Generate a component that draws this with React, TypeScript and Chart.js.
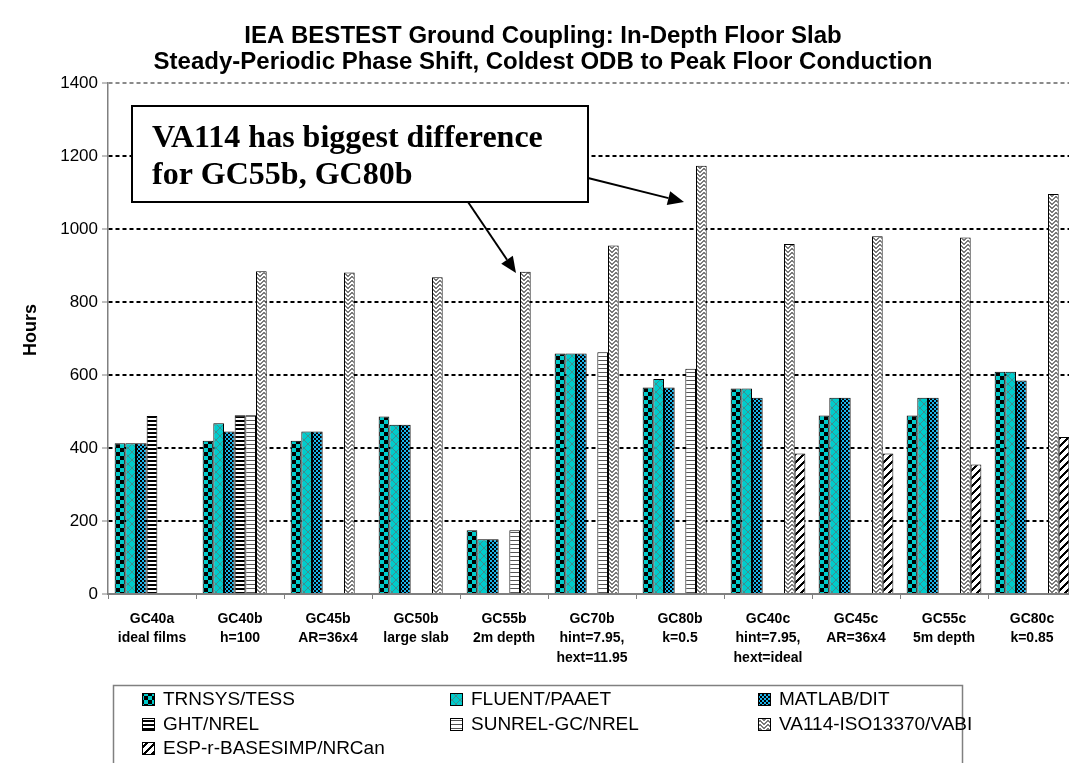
import React, { useEffect, useRef } from "react";
import { Chart, registerables } from "chart.js";
Chart.register(...registerables);

const categoryLabels: string[][] = [
  ["GC40a", "ideal films"],
  ["GC40b", "h=100"],
  ["GC45b", "AR=36x4"],
  ["GC50b", "large slab"],
  ["GC55b", "2m depth"],
  ["GC70b", "hint=7.95,", "hext=11.95"],
  ["GC80b", "k=0.5"],
  ["GC40c", "hint=7.95,", "hext=ideal"],
  ["GC45c", "AR=36x4"],
  ["GC55c", "5m depth"],
  ["GC80c", "k=0.85"],
];

const seriesNames = [
  "TRNSYS/TESS",
  "FLUENT/PAAET",
  "MATLAB/DIT",
  "GHT/NREL",
  "SUNREL-GC/NREL",
  "VA114-ISO13370/VABI",
  "ESP-r-BASESIMP/NRCan",
];

const trnsysTess = [413, 420, 420, 486, 175, 659, 566, 563, 489, 489, 609];
const fluentPaaet = [413, 468, 445, 464, 150, 659, 589, 563, 538, 538, 609];
const matlabDit = [413, 445, 445, 464, 150, 659, 566, 538, 538, 538, 585];
const ghtNrel = [488, 490, null, null, null, null, null, null, null, null, null];
const sunrelGcNrel = [null, 490, null, null, 175, 662, 617, null, null, null, null];
const va114Vabi = [null, 884, 881, 868, 883, 955, 1173, 959, 980, 977, 1096];
const espNrcan = [null, null, null, null, null, null, null, 385, 385, 355, 430];

const yTicks = [0, 200, 400, 600, 800, 1000, 1200, 1400];
const titleLines = [
  "IEA BESTEST Ground Coupling: In-Depth Floor Slab",
  "Steady-Periodic Phase Shift, Coldest ODB to Peak Floor Conduction",
];
const yAxisTitle = "Hours";
const noteLines = ["VA114 has biggest difference", "for GC55b, GC80b"];

const SANS = '"Liberation Sans", Arial, sans-serif';
const SERIF = '"Liberation Serif", "Times New Roman", serif';
const CYAN = "#00CCCC";

function tile(w: number, h: number, draw: (c: CanvasRenderingContext2D) => void) {
  const cv = document.createElement("canvas");
  cv.width = w;
  cv.height = h;
  const c = cv.getContext("2d")!;
  draw(c);
  return cv;
}

function makePatterns(ctx: CanvasRenderingContext2D): CanvasPattern[] {
  const tiles = [
    tile(8, 8, (c) => {
      c.fillStyle = CYAN;
      c.fillRect(0, 0, 8, 8);
      c.fillStyle = "#000";
      c.fillRect(0, 0, 4, 4);
      c.fillRect(4, 4, 4, 4);
    }),
    tile(8, 8, (c) => {
      c.fillStyle = CYAN;
      c.fillRect(0, 0, 8, 8);
      c.fillStyle = "#3f8f8f";
      for (let i = 0; i < 8; i++) {
        c.fillRect(i, i, 1, 1);
        c.fillRect(7 - i, i, 1, 1);
      }
    }),
    tile(4, 4, (c) => {
      c.fillStyle = "#1ab4ea";
      c.fillRect(0, 0, 4, 4);
      c.fillStyle = "#000";
      c.fillRect(0, 0, 2, 2);
      c.fillRect(2, 2, 2, 2);
    }),
    tile(4, 4, (c) => {
      c.fillStyle = "#fff";
      c.fillRect(0, 0, 4, 4);
      c.fillStyle = "#000";
      c.fillRect(0, 0, 4, 2);
    }),
    tile(4, 4, (c) => {
      c.fillStyle = "#fff";
      c.fillRect(0, 0, 4, 4);
      c.fillStyle = "#555";
      c.fillRect(0, 0, 4, 1);
    }),
    tile(8, 4, (c) => {
      c.fillStyle = "#fff";
      c.fillRect(0, 0, 8, 4);
      c.fillStyle = "#7a7a7a";
      for (let x = 0; x < 8; x++) {
        const y = x < 4 ? x : 7 - x;
        c.fillRect(x, y, 1, 1);
        c.fillRect(x, (y + 1) % 4, 1, 1);
      }
    }),
    tile(8, 8, (c) => {
      c.fillStyle = "#fff";
      c.fillRect(0, 0, 8, 8);
      c.fillStyle = "#000";
      for (let x = 0; x < 8; x++)
        for (let y = 0; y < 8; y++) if ((x + y) % 8 < 3) c.fillRect(x, y, 1, 1);
    }),
  ];
  return tiles.map((t) => ctx.createPattern(t, "repeat")!);
}

function drawArrow(ctx: CanvasRenderingContext2D, x1: number, y1: number, x2: number, y2: number) {
  const ang = Math.atan2(y2 - y1, x2 - x1);
  const len = 16;
  const half = 7;
  const bx = x2 - len * Math.cos(ang);
  const by = y2 - len * Math.sin(ang);
  ctx.beginPath();
  ctx.moveTo(x1, y1);
  ctx.lineTo(bx, by);
  ctx.lineWidth = 2;
  ctx.strokeStyle = "#000";
  ctx.stroke();
  ctx.beginPath();
  ctx.moveTo(x2, y2);
  ctx.lineTo(bx + half * Math.sin(ang), by - half * Math.cos(ang));
  ctx.lineTo(bx - half * Math.sin(ang), by + half * Math.cos(ang));
  ctx.closePath();
  ctx.fillStyle = "#000";
  ctx.fill();
}

export default function App() {
  const ref = useRef<HTMLCanvasElement | null>(null);

  useEffect(() => {
    const canvas = ref.current!;
    const ctx0 = canvas.getContext("2d")!;
    const patterns = makePatterns(ctx0);
    const series = [trnsysTess, fluentPaaet, matlabDit, ghtNrel, sunrelGcNrel, va114Vabi, espNrcan];

    const decor = {
      id: "decor",
      afterDraw(chart: any) {
        const ctx: CanvasRenderingContext2D = chart.ctx;
        ctx.save();
        // Title
        ctx.fillStyle = "#000";
        ctx.textAlign = "center";
        ctx.textBaseline = "middle";
        ctx.font = `bold 24px ${SANS}`;
        ctx.fillText(titleLines[0], 543, 36);
        ctx.fillText(titleLines[1], 543, 62);
        // Y axis title
        ctx.save();
        ctx.translate(31, 330);
        ctx.rotate(-Math.PI / 2);
        ctx.font = `bold 18px ${SANS}`;
        ctx.fillText(yAxisTitle, 0, 0);
        ctx.restore();
        // Annotation box
        ctx.fillStyle = "#fff";
        ctx.fillRect(132, 106, 456, 96);
        ctx.lineWidth = 2;
        ctx.strokeStyle = "#000";
        ctx.strokeRect(132, 106, 456, 96);
        ctx.fillStyle = "#000";
        ctx.textAlign = "left";
        ctx.textBaseline = "alphabetic";
        ctx.font = `bold 32px ${SERIF}`;
        ctx.fillText(noteLines[0], 152, 147);
        ctx.fillText(noteLines[1], 152, 184);
        drawArrow(ctx, 468, 202, 516, 273);
        drawArrow(ctx, 588, 178, 684, 202);
        // Legend
        ctx.lineWidth = 1.5;
        ctx.strokeStyle = "#808080";
        ctx.strokeRect(113.5, 685.5, 849, 120);
        const colX = [142, 450, 758];
        const rowY = [699, 724, 748];
        ctx.font = `19px ${SANS}`;
        ctx.textBaseline = "middle";
        seriesNames.forEach((name, i) => {
          const x = colX[i % 3];
          const y = rowY[Math.floor(i / 3)];
          ctx.fillStyle = patterns[i];
          ctx.fillRect(x, y - 6, 13, 13);
          ctx.lineWidth = 1;
          ctx.strokeStyle = "#000";
          ctx.strokeRect(x + 0.5, y - 5.5, 12, 12);
          ctx.fillStyle = "#000";
          ctx.fillText(name, x + 21, y + 1);
        });
        ctx.restore();
      },
    };

    const chart = new Chart(canvas, {
      type: "bar",
      data: {
        labels: categoryLabels,
        datasets: seriesNames.map((name, i) => ({
          label: name,
          data: series[i] as any,
          backgroundColor: patterns[i] as any,
          borderColor: "#000",
          borderWidth: 1,
          categoryPercentage: 0.849,
          barPercentage: 1,
        })),
      },
      options: {
        responsive: false,
        animation: false,
        devicePixelRatio: 1,
        layout: { padding: { top: 83, right: 4, left: 0, bottom: 0 } },
        plugins: {
          legend: { display: false },
          title: { display: false },
          tooltip: { enabled: false },
        },
        scales: {
          x: {
            grid: {
              display: true,
              drawOnChartArea: false,
              drawTicks: true,
              tickLength: 5,
              tickColor: "#808080",
              offset: true,
            },
            border: { color: "#808080", width: 2 },
            ticks: {
              color: "#000",
              font: { family: SANS, size: 14, weight: "bold", lineHeight: 1.4 },
              maxRotation: 0,
              minRotation: 0,
              autoSkip: false,
              padding: 10,
            },
            afterFit: (s: any) => {
              s.height = 169;
            },
          },
          y: {
            min: 0,
            max: 1400,
            afterBuildTicks: (s: any) => {
              s.ticks = yTicks.map((v) => ({ value: v }));
            },
            ticks: {
              color: "#000",
              font: { family: SANS, size: 17 },
              padding: 4,
              callback: (v: any) => String(v),
            },
            grid: {
              color: (c: any) =>
                !c.tick || c.tick.value === 0 ? "rgba(0,0,0,0)" : c.tick.value === 1400 ? "#8a8a8a" : "#000",
              lineWidth: 2,
              tickLength: 6,
              tickColor: "#808080",
              tickWidth: 1,
            },
            border: { color: "#808080", width: 1.5, dash: [4, 3] },
            afterFit: (s: any) => {
              s.width = 108;
            },
          },
        },
      } as any,
      plugins: [decor],
    });
    return () => chart.destroy();
  }, []);

  return (
    <div
      style={{
        position: "fixed",
        left: 0,
        top: 0,
        width: 1069,
        height: 763,
        overflow: "hidden",
        background: "#fff",
      }}
    >
      <canvas ref={ref} width={1080} height={763} style={{ width: 1080, height: 763, display: "block" }} />
    </div>
  );
}
